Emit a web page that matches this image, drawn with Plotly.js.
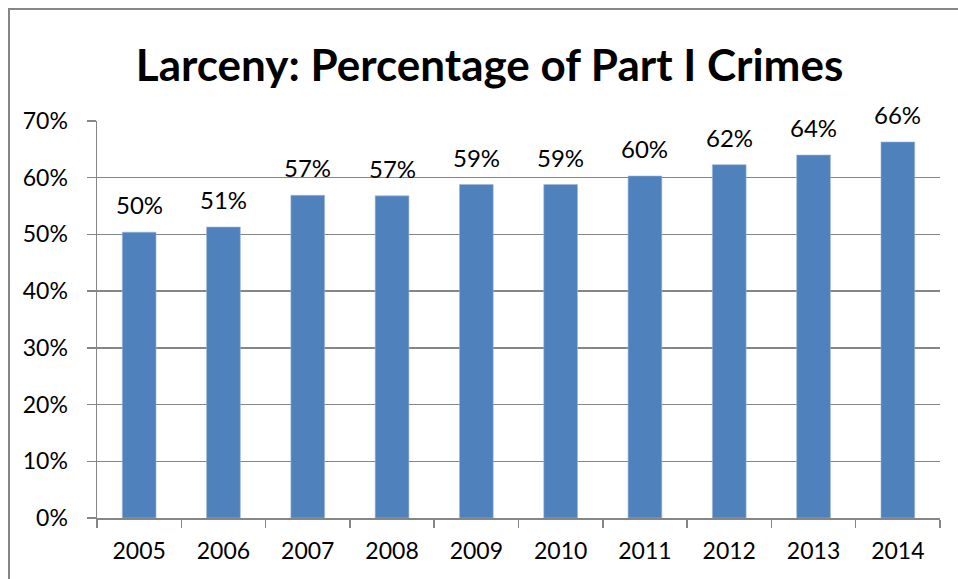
<!DOCTYPE html>
<html>
<head>
<meta charset="utf-8">
<script src="https://cdn.plot.ly/plotly-3.0.1.min.js"></script>
<style>
  html, body { margin: 0; padding: 0; background: #fff; }
  #wrap { position: relative; width: 958px; height: 579px; }
  #chart { position: absolute; left: 0; top: 0; width: 958px; height: 579px; }
  #frame { position: absolute; left: 8px; top: 8px; width: 960px; height: 580px;
           border-left: 2px solid #868686; border-top: 2px solid #868686; pointer-events: none; }
</style>
</head>
<body>
<div id="wrap">
  <div id="chart"></div>
  <div id="frame"></div>
</div>
<script>
const years = ["2005","2006","2007","2008","2009","2010","2011","2012","2013","2014"];
const larcenyShare = [0.504, 0.513, 0.569, 0.568, 0.588, 0.588, 0.603, 0.623, 0.640, 0.663];
const shareLabels = ["50%","51%","57%","57%","59%","59%","60%","62%","64%","66%"];
const yTickVals = [0, 0.1, 0.2, 0.3, 0.4, 0.5, 0.6, 0.7];
const yTickText = ["0%","10%","20%","30%","40%","50%","60%","70%"];

const FONT = "Lato, 'Open Sans', sans-serif";
const GRID = "#868686";

const trace = {
  type: "bar",
  x: years,
  y: larcenyShare,
  marker: { color: "#4F81BD", line: { color: "#9DB5D9", width: 0.6 } },
  hoverinfo: "none"
};

// category axes place annotations by category index
const annotations = years.map((yr, i) => ({
  x: i, y: larcenyShare[i], xref: "x", yref: "y",
  text: shareLabels[i], showarrow: false,
  yanchor: "bottom", yshift: 11,
  font: { family: FONT, size: 24, color: "#000" }
}));

const layout = {
  width: 958, height: 579,
  margin: { l: 97, r: 18, t: 121, b: 61, pad: 0 },
  paper_bgcolor: "#fff", plot_bgcolor: "#fff",
  showlegend: false,
  bargap: 0.6,
  title: {
    text: "<b>Larceny: Percentage of Part I Crimes</b>",
    font: { family: FONT, size: 44, color: "#000" },
    xref: "container", x: 0.511, xanchor: "center",
    yref: "container", y: 1 - 66 / 579, yanchor: "middle"
  },
  xaxis: {
    type: "category",
    categoryorder: "array", categoryarray: years,
    showline: true, linecolor: GRID, linewidth: 1.5,
    ticks: "outside", tickson: "boundaries", ticklen: 8, tickcolor: GRID, tickwidth: 1.5,
    ticklabelstandoff: 12, tickangle: 0,
    tickfont: { family: FONT, size: 23, color: "#000" },
    showgrid: false, zeroline: false
  },
  yaxis: {
    range: [0, 0.7],
    tickvals: yTickVals, ticktext: yTickText,
    showline: true, linecolor: GRID, linewidth: 1.5,
    ticks: "outside", ticklen: 9, tickcolor: GRID, tickwidth: 1.5,
    ticklabelstandoff: 14,
    tickfont: { family: FONT, size: 23, color: "#000" },
    showgrid: true, gridcolor: GRID, gridwidth: 1.5,
    zeroline: false
  },
  annotations: annotations
};

Plotly.newPlot("chart", [trace], layout, { displayModeBar: false, staticPlot: true });
</script>
</body>
</html>
